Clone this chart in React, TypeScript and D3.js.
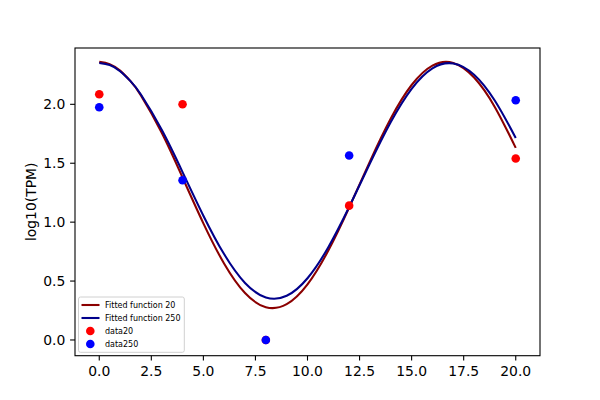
import React from "react";
import * as d3 from "d3";

const fitX = [0, 0.5, 1, 1.5, 2, 3, 4, 5, 6, 7, 8, 9, 10, 11, 12, 13, 14, 15, 16, 17, 18, 19, 20];
const fit20 = [2.36, 2.341, 2.286, 2.197, 2.076, 1.759, 1.379, 0.99, 0.647, 0.398, 0.278, 0.304, 0.472, 0.759, 1.124, 1.516, 1.88, 2.164, 2.329, 2.351, 2.227, 1.976, 1.63];
const fit250 = [2.35, 2.333, 2.281, 2.197, 2.083, 1.784, 1.425, 1.055, 0.727, 0.484, 0.361, 0.375, 0.524, 0.787, 1.128, 1.499, 1.85, 2.132, 2.306, 2.347, 2.251, 2.03, 1.715];

const dataX = [0, 4, 8, 12, 20];
const data20 = [2.085, 2.0, 0.0, 1.14, 1.54];
const data250 = [1.975, 1.355, 0.0, 1.565, 2.035];

const xTicks = [0, 2.5, 5, 7.5, 10, 12.5, 15, 17.5, 20];
const yTicks = [0, 0.5, 1.0, 1.5, 2.0];

const legendItems = ["Fitted function 20", "Fitted function 250", "data20", "data250"];

export default function App() {
  const W = 600, H = 400;
  const L = 75, R = 540, T = 48, B = 355.7;
  const x = d3.scaleLinear().domain([-1.165, 21.165]).range([L, R]);
  const y = d3.scaleLinear().domain([-0.1335, 2.478]).range([B, T]);
  const line = d3
    .line<number>()
    .x((_, i) => x(fitX[i]))
    .y((d) => y(d))
    .curve(d3.curveNatural);
  const font = "DejaVu Sans, sans-serif";
  const rowsY = [305, 318, 331, 344];
  return (
    <svg width={W} height={H} style={{ position: "absolute", left: 0, top: 0 }} fontFamily={font}>
      <rect x={0} y={0} width={W} height={H} fill="#fff" />
      <defs>
        <clipPath id="ax">
          <rect x={L} y={T} width={R - L} height={B - T} />
        </clipPath>
      </defs>
      <g clipPath="url(#ax)">
        <path d={line(fit20) || ""} fill="none" stroke="#8b0000" strokeWidth={2.08} />
        <path d={line(fit250) || ""} fill="none" stroke="#00008b" strokeWidth={2.08} />
        {dataX.map((d, i) => (
          <circle key={"r" + i} cx={x(d)} cy={y(data20[i])} r={4.3} fill="#ff0000" />
        ))}
        {dataX.map((d, i) => (
          <circle key={"b" + i} cx={x(d)} cy={y(data250[i])} r={4.3} fill="#0000ff" />
        ))}
      </g>
      <rect x={L} y={T} width={R - L} height={B - T} fill="none" stroke="#000" strokeWidth={1.1} />
      {xTicks.map((t) => (
        <g key={"x" + t}>
          <line x1={x(t)} x2={x(t)} y1={B} y2={B + 4.9} stroke="#000" strokeWidth={1.1} />
          <text x={x(t)} y={B + 9.7} dy="0.76em" fontSize={13.9} textAnchor="middle" fill="#000">
            {t.toFixed(1)}
          </text>
        </g>
      ))}
      {yTicks.map((t) => (
        <g key={"y" + t}>
          <line x1={L} x2={L - 4.9} y1={y(t)} y2={y(t)} stroke="#000" strokeWidth={1.1} />
          <text x={L - 9.7} y={y(t)} dy="0.36em" fontSize={13.9} textAnchor="end" fill="#000">
            {t.toFixed(1)}
          </text>
        </g>
      ))}
      <text
        transform={`translate(${30.5},${(T + B) / 2}) rotate(-90)`}
        fontSize={13.9}
        textAnchor="middle"
        dy="0.36em"
        fill="#000"
      >
        log10(TPM)
      </text>
      <rect x={78.5} y={297} width={105.8} height={55.3} rx={2} fill="#fff" fillOpacity={0.8} stroke="#d0d0d0" strokeWidth={1} />
      {legendItems.map((lab, i) => (
        <g key={lab}>
          {i < 2 ? (
            <line x1={81.5} x2={99.5} y1={rowsY[i]} y2={rowsY[i]} stroke={i === 0 ? "#8b0000" : "#00008b"} strokeWidth={2.08} />
          ) : (
            <circle cx={90.3} cy={rowsY[i]} r={4.3} fill={i === 2 ? "#ff0000" : "#0000ff"} />
          )}
          <text x={105} y={rowsY[i]} dy="0.36em" fontSize={8} fill="#000">
            {lab}
          </text>
        </g>
      ))}
    </svg>
  );
}
